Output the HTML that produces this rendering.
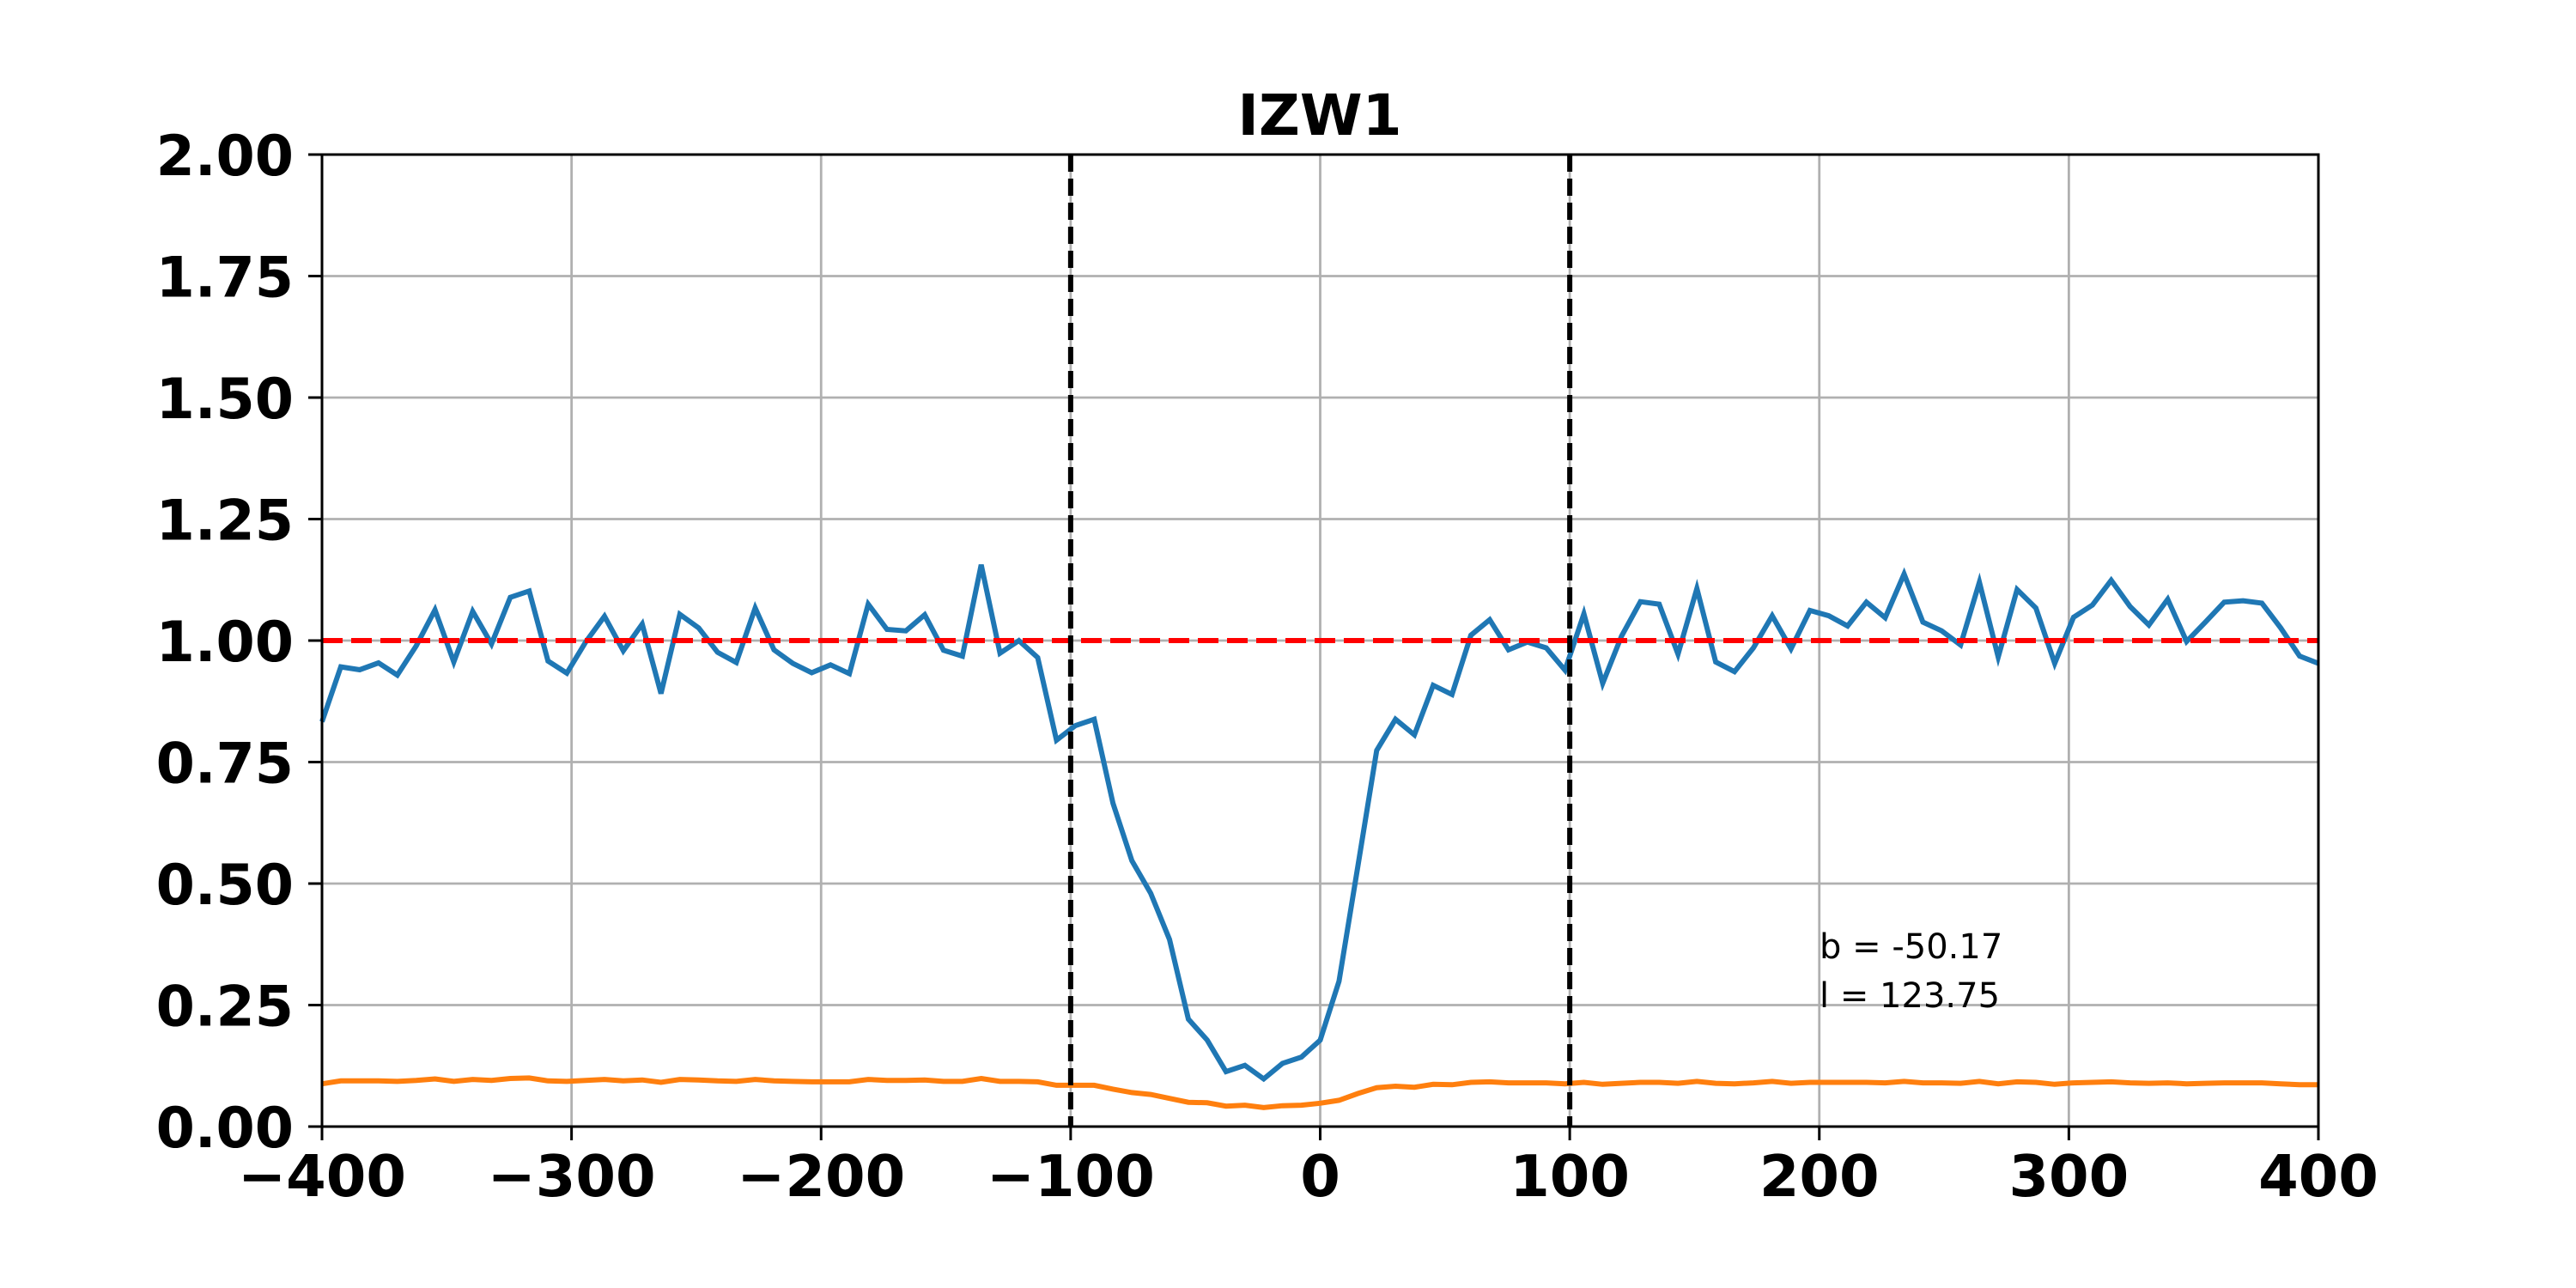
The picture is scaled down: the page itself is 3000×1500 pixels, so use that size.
<!DOCTYPE html>
<html><head><meta charset="utf-8"><style>html,body{margin:0;padding:0;background:#fff}svg{display:block}</style></head>
<body>
<svg id="chart" width="3000" height="1500" xmlns="http://www.w3.org/2000/svg" font-family="DejaVu Sans, Liberation Sans, sans-serif">
<rect width="3000" height="1500" fill="#fff"/>
<g id="grid"></g>
<g id="series"></g>
<g id="axes"></g>
<text x="1537" y="157" text-anchor="middle" font-weight="bold" font-size="66">IZW1</text>
<text x="2119" y="1116" font-size="40">b = -50.17</text>
<text x="2119" y="1173" font-size="40">l = 123.75</text>
</svg>
<script>
const xTicks = [-400,-300,-200,-100,0,100,200,300,400];
const xTickLabels = ["\u2212400","\u2212300","\u2212200","\u2212100","0","100","200","300","400"];
const yTicks = [0,0.25,0.5,0.75,1,1.25,1.5,1.75,2];
const yTickLabels = ["0.00","0.25","0.50","0.75","1.00","1.25","1.50","1.75","2.00"];
const vLines = [-100,100];
const refLine = 1.0;
const blueValues = [0.833,0.946,0.940,0.954,0.929,0.989,1.063,0.956,1.060,0.993,1.089,1.102,0.958,0.933,0.997,1.050,0.979,1.034,0.891,1.054,1.026,0.976,0.955,1.067,0.981,0.953,0.934,0.950,0.932,1.075,1.023,1.020,1.053,0.980,0.968,1.156,0.974,1.000,0.965,0.795,0.825,
0.838,0.665,0.547,0.480,0.385,0.221,0.178,0.113,0.126,0.098,0.130,0.143,0.178,0.299,0.536,0.774,0.838,0.806,0.908,0.889,1.011,1.043,0.981,0.997,0.985,0.939,1.055,0.912,1.009,1.080,1.075,0.972,1.107,0.956,0.936,0.985,
1.051,0.983,1.062,1.051,1.030,1.079,1.047,1.137,1.038,1.020,0.991,1.120,0.966,1.105,1.067,0.953,1.048,1.073,1.124,1.070,1.032,1.085,0.998,1.038,1.079,1.082,1.077,1.026,0.968,0.953];
const orangeValues = [0.088,0.094,0.094,0.094,0.093,0.095,0.098,0.093,0.097,0.095,0.099,0.100,0.094,0.093,0.095,0.097,0.094,0.096,0.091,0.097,0.096,0.094,0.093,0.097,0.094,0.093,0.092,0.092,0.092,0.097,0.095,0.095,0.096,0.093,0.093,0.099,0.093,0.093,0.092,0.085,0.085,
0.085,0.077,0.070,0.066,0.058,0.050,0.049,0.042,0.044,0.039,0.043,0.044,0.048,0.054,0.068,0.080,0.083,0.081,0.087,0.086,0.091,0.092,0.090,0.090,0.090,0.088,0.091,0.087,0.089,0.091,0.091,0.089,0.093,0.089,0.088,0.090,
0.093,0.089,0.091,0.091,0.091,0.091,0.090,0.093,0.090,0.090,0.089,0.093,0.088,0.092,0.091,0.087,0.090,0.091,0.092,0.090,0.089,0.090,0.088,0.089,0.090,0.090,0.090,0.088,0.086,0.086];

const L=375,R=2700,T=180,B=1312;
const xs=v=>L+(v+400)/800*(R-L);
const ys=v=>B-v/2*(B-T);
const NS="http://www.w3.org/2000/svg";
function mk(tag,attrs,parent){const e=document.createElementNS(NS,tag);for(const k in attrs)e.setAttribute(k,attrs[k]);parent.appendChild(e);return e;}
const grid=document.getElementById('grid'),ser=document.getElementById('series'),ax=document.getElementById('axes');
xTicks.forEach((t,i)=>{
  const g=mk('line',{x1:xs(t),x2:xs(t),y1:T,y2:B,stroke:'#b0b0b0','stroke-width':2.8},grid);
  
  
  const tk=mk('line',{x1:xs(t),x2:xs(t),y1:B,y2:B+16,stroke:'#000','stroke-width':3},ax);
  
  
  const tx=mk('text',{x:xs(t),y:1393,'text-anchor':'middle','font-weight':'bold','font-size':67},ax);
  tx.textContent=xTickLabels[i];
  
  
});
yTicks.forEach((t,i)=>{
  const g=mk('line',{x1:L,x2:R,y1:ys(t),y2:ys(t),stroke:'#b0b0b0','stroke-width':2.8},grid);
  
  
  const tk=mk('line',{x1:L-16,x2:L,y1:ys(t),y2:ys(t),stroke:'#000','stroke-width':3},ax);
  
  
  const tx=mk('text',{x:342,y:ys(t)+24,'text-anchor':'end','font-weight':'bold','font-size':65},ax);
  tx.textContent=yTickLabels[i];
  
  
});
function pts(vals){const n=vals.length-1;return vals.map((v,i)=>xs(-400+800*i/n).toFixed(1)+','+ys(v).toFixed(1)).join(' ');}
const bl=mk('polyline',{points:pts(blueValues),fill:'none',stroke:'#1f77b4','stroke-width':6},ser);


const ol=mk('polyline',{points:pts(orangeValues),fill:'none',stroke:'#ff7f0e','stroke-width':6},ser);


const rl=mk('line',{x1:L,x2:R,y1:ys(refLine),y2:ys(refLine),stroke:'#ff0000','stroke-width':6,'stroke-dasharray':'24 10'},ser);


vLines.forEach(v=>{
  const l=mk('line',{x1:xs(v),x2:xs(v),y1:T,y2:B,stroke:'#000','stroke-width':6,'stroke-dasharray':'20 8'},ser);
  
  
});
const fr=mk('rect',{x:L,y:T,width:R-L,height:B-T,fill:'none',stroke:'#000','stroke-width':3},ax);


</script>
</body></html>
